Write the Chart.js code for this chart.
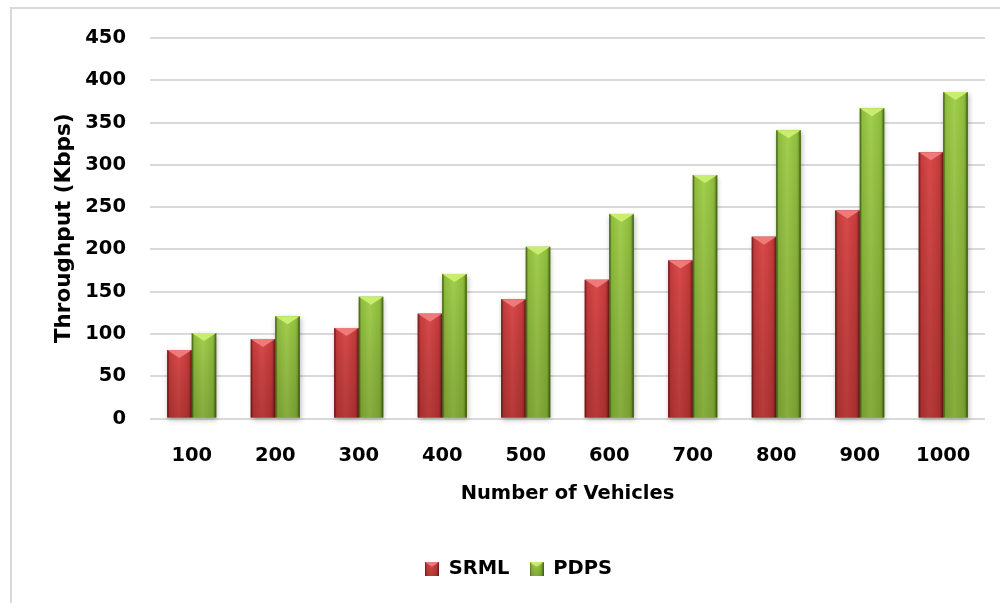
<!DOCTYPE html>
<html>
<head>
<meta charset="utf-8">
<title>Throughput vs Number of Vehicles</title>
<script src="https://cdn.jsdelivr.net/npm/chart.js@4/dist/chart.umd.min.js"></script>
<style>
  html, body { margin: 0; padding: 0; background: #ffffff; }
  canvas { display: block; }
</style>
</head>
<body>
<canvas id="chart" width="1000" height="603"></canvas>
<script>
// Data
const vehicleCounts = ['100', '200', '300', '400', '500', '600', '700', '800', '900', '1000'];
const srmlThroughput = [81, 94, 107, 124, 141, 164, 187, 215, 246, 315];
const pdpsThroughput = [101, 121, 144, 171, 203, 242, 288, 341, 367, 386];
const seriesNames = ['SRML', 'PDPS'];
const yTickMax = 450;
const yTickStep = 50;

// Bevel palettes for the two series
const palettes = [
  { edge: '#8a2424', mid: '#c63b3b', light: '#d94a4a', topFace: '#ee7a7a', bottom: 'rgba(60,0,0,0.22)' },
  { edge: '#587a1c', mid: '#8fbd3e', light: '#a3cf4e', topFace: '#c9ee6e', bottom: 'rgba(30,50,0,0.22)' }
];

const FONT = '"DejaVu Sans", Verdana, sans-serif';

function drawBevelRect(ctx, left, top, w, h, pal, withShadow) {
  if (h <= 0 || w <= 0) return;
  const right = left + w;
  const bottom = top + h;
  ctx.save();
  // body with soft drop shadow
  const g = ctx.createLinearGradient(left, 0, right, 0);
  g.addColorStop(0, pal.edge);
  g.addColorStop(0.1, pal.mid);
  g.addColorStop(0.45, pal.light);
  g.addColorStop(0.85, pal.mid);
  g.addColorStop(1, pal.edge);
  if (withShadow) {
    ctx.shadowColor = 'rgba(0,0,0,0.28)';
    ctx.shadowBlur = 5;
    ctx.shadowOffsetX = 1;
    ctx.shadowOffsetY = 2;
  }
  ctx.fillStyle = g;
  ctx.fillRect(left, top, w, h);
  ctx.shadowColor = 'transparent';
  // darken toward the base
  const v = ctx.createLinearGradient(0, top, 0, bottom);
  v.addColorStop(0, 'rgba(0,0,0,0)');
  v.addColorStop(1, pal.bottom);
  ctx.fillStyle = v;
  ctx.fillRect(left, top, w, h);
  // top bevel face
  const depth = Math.min(w * 0.33, h * 0.5, 8);
  ctx.beginPath();
  ctx.moveTo(left, top);
  ctx.lineTo(right, top);
  ctx.lineTo(left + w / 2, top + depth);
  ctx.closePath();
  ctx.fillStyle = pal.topFace;
  ctx.fill();
  // side edges
  ctx.fillStyle = 'rgba(0,0,0,0.18)';
  ctx.fillRect(left, top, 1.5, h);
  ctx.fillRect(right - 1.5, top, 1.5, h);
  ctx.restore();
}

// Small bevelled legend markers
function legendMarker(pal) {
  const c = document.createElement('canvas');
  c.width = 14; c.height = 14;
  drawBevelRect(c.getContext('2d'), 0, 0, 14, 14, pal, false);
  return c;
}

const frame = {
  id: 'frame',
  beforeDraw(chart) {
    const ctx = chart.ctx;
    ctx.save();
    ctx.fillStyle = '#ffffff';
    ctx.fillRect(0, 0, chart.width, chart.height);
    ctx.strokeStyle = '#d9d9d9';
    ctx.lineWidth = 2;
    ctx.beginPath();
    ctx.moveTo(11, chart.height);
    ctx.lineTo(11, 8);
    ctx.lineTo(chart.width, 8);
    ctx.stroke();
    ctx.restore();
  }
};

const bevelBars = {
  id: 'bevelBars',
  afterDatasetsDraw(chart) {
    const ctx = chart.ctx;
    chart.data.datasets.forEach((ds, i) => {
      const meta = chart.getDatasetMeta(i);
      if (meta.hidden) return;
      meta.data.forEach(bar => {
        const p = bar.getProps(['x', 'y', 'base', 'width'], true);
        drawBevelRect(ctx, p.x - p.width / 2, p.y, p.width, p.base - p.y, palettes[i], true);
      });
    });
  }
};

new Chart(document.getElementById('chart'), {
  type: 'bar',
  data: {
    labels: vehicleCounts,
    datasets: [
      { label: seriesNames[0], data: srmlThroughput, backgroundColor: palettes[0].mid, pointStyle: legendMarker(palettes[0]) },
      { label: seriesNames[1], data: pdpsThroughput, backgroundColor: palettes[1].mid, pointStyle: legendMarker(palettes[1]) }
    ]
  },
  options: {
    responsive: false,
    animation: false,
    devicePixelRatio: 1,
    layout: { padding: { top: 38, left: 52, right: 15, bottom: 14 } },
    datasets: { bar: { categoryPercentage: 0.587, barPercentage: 1.0 } },
    plugins: {
      tooltip: { enabled: false },
      legend: {
        position: 'bottom',
        labels: {
          usePointStyle: true,
          boxWidth: 14,
          boxHeight: 14,
          padding: 20,
          color: '#000000',
          font: { family: FONT, size: 19.5, weight: 'bold' }
        }
      }
    },
    scales: {
      x: {
        grid: { display: false, drawTicks: false },
        border: { display: false },
        ticks: { color: '#000000', padding: 26, font: { family: FONT, size: 19.5, weight: 'bold' } },
        title: {
          display: true,
          text: 'Number of Vehicles',
          color: '#000000',
          padding: { top: 0, bottom: 33.5 },
          font: { family: FONT, size: 19.5, weight: 'bold' }
        },
        afterFit(scale) { scale.height = 121; }
      },
      y: {
        min: 0,
        max: yTickMax,
        grid: { color: '#d9d9d9', lineWidth: 2, drawTicks: false },
        border: { display: false },
        ticks: { stepSize: yTickStep, color: '#000000', padding: 24, font: { family: FONT, size: 19.5, weight: 'bold' } },
        title: {
          display: true,
          text: 'Throughput (Kbps)',
          color: '#000000',
          padding: { top: 0, bottom: 0 },
          font: { family: FONT, size: 21.5, weight: 'bold' }
        },
        afterFit(scale) { scale.width = 98; }
      }
    }
  },
  plugins: [frame, bevelBars]
});
</script>
</body>
</html>
